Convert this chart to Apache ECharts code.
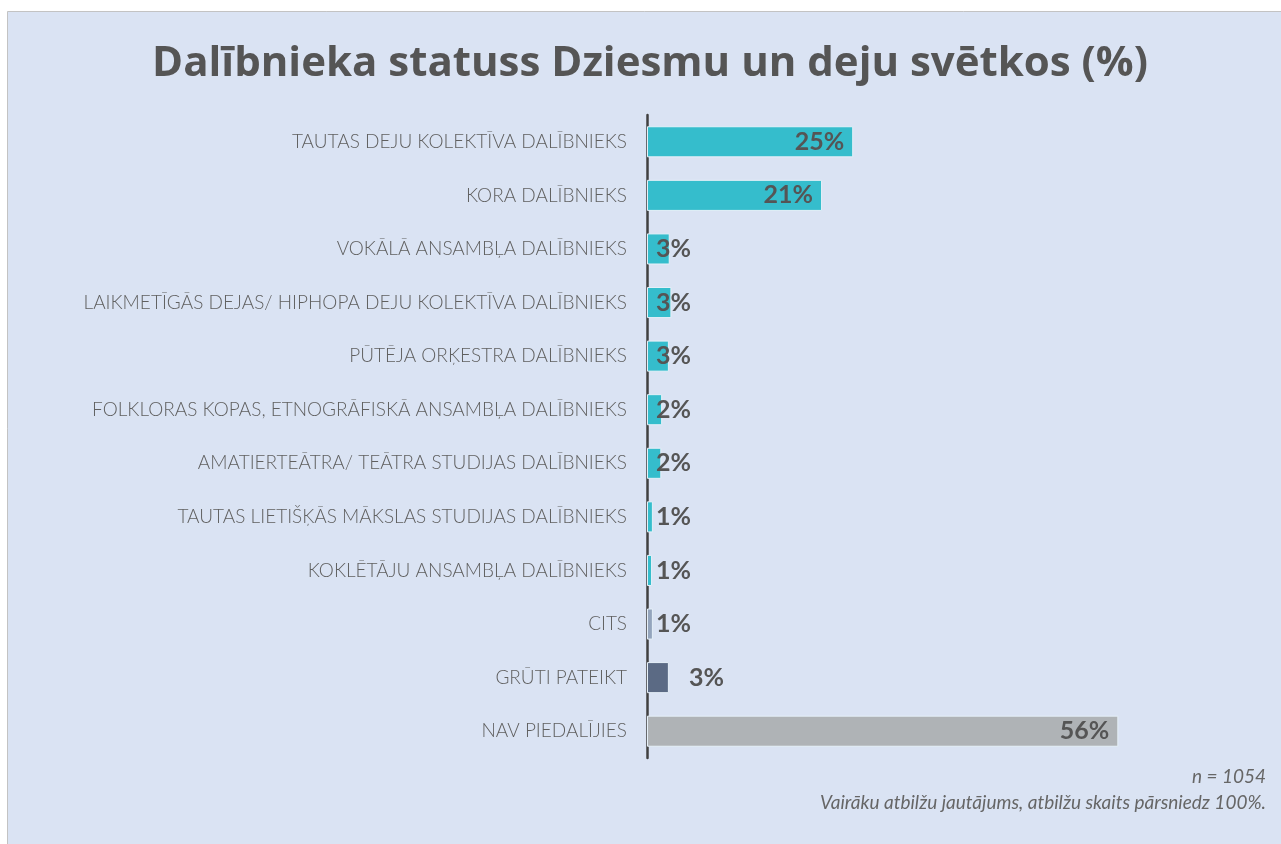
<!DOCTYPE html>
<html>
<head>
<meta charset="utf-8">
<title>Dalībnieka statuss</title>
<script src="https://cdn.jsdelivr.net/npm/echarts@6/dist/echarts.min.js"></script>
<style>
  html, body { margin: 0; padding: 0; background: #fff; }
  #chart { width: 1281px; height: 844px; }
</style>
</head>
<body>
<div id="chart"></div>
<script>
// categories, top to bottom
var categories = [
  'TAUTAS DEJU KOLEKTĪVA DALĪBNIEKS',
  'KORA DALĪBNIEKS',
  'VOKĀLĀ ANSAMBĻA DALĪBNIEKS',
  'LAIKMETĪGĀS DEJAS/ HIPHOPA DEJU KOLEKTĪVA DALĪBNIEKS',
  'PŪTĒJA ORĶESTRA DALĪBNIEKS',
  'FOLKLORAS KOPAS, ETNOGRĀFISKĀ ANSAMBĻA DALĪBNIEKS',
  'AMATIERTEĀTRA/ TEĀTRA STUDIJAS DALĪBNIEKS',
  'TAUTAS LIETIŠĶĀS MĀKSLAS STUDIJAS DALĪBNIEKS',
  'KOKLĒTĀJU ANSAMBĻA DALĪBNIEKS',
  'CITS',
  'GRŪTI PATEIKT',
  'NAV PIEDALĪJIES'
]
var values = [24.5, 20.8, 2.7, 2.9, 2.6, 1.8, 1.7, 0.7, 0.6, 0.7, 2.6, 56]
var labels = ['25%', '21%', '3%', '3%', '3%', '2%', '2%', '1%', '1%', '1%', '3%', '56%']

var titleText = 'Dalībnieka statuss Dziesmu un deju svētkos (%)'
var noteText = ['n = 1054', 'Vairāku atbilžu jautājums, atbilžu skaits pārsniedz 100%.']

var colorFor = function (name) {
  if (name === 'CITS') return '#93a4bc'
  if (name === 'GRŪTI PATEIKT') return '#5b6a84'
  if (name === 'NAV PIEDALĪJIES') return '#afb3b6'
  return '#35bdcc'
}

var labelFor = function (name, v) {
  if (name === 'GRŪTI PATEIKT') return { position: 'right', distance: 20 }
  if (v > 10) return { position: 'insideRight', distance: 9 }
  return { position: 'insideLeft', distance: 9 }
}

// reverse so first category sits at the top
var cats = categories.slice().reverse()
var seriesData = categories.map(function (name, i) {
  return {
    value: values[i],
    name: labels[i],
    itemStyle: { color: colorFor(name) },
    label: labelFor(name, values[i])
  }
}).reverse()

var chart = echarts.init(document.getElementById('chart'))
var noteStyle = {
  fontFamily: 'Lato',
  fontStyle: 'italic',
  fontSize: 19,
  fill: '#666666',
  textAlign: 'right',
  textVerticalAlign: 'middle'
}
var option = {
  backgroundColor: '#ffffff',
  animation: false,
  graphic: [{
    type: 'rect',
    z: -10,
    shape: { x: 7.5, y: 11.5, width: 1290, height: 850 },
    style: { fill: '#dae3f3', stroke: '#c3c3c3', lineWidth: 1 }
  }, {
    type: 'text',
    x: 650,
    y: 64,
    style: {
      text: titleText,
      fontFamily: 'Open Sans',
      fontWeight: 'bold',
      fontSize: 42,
      fill: '#555555',
      textAlign: 'center',
      textVerticalAlign: 'middle'
    }
  }, {
    type: 'text',
    x: 1266,
    y: 777,
    style: Object.assign({ text: noteText[0] }, noteStyle)
  }, {
    type: 'text',
    x: 1266,
    y: 803,
    style: Object.assign({ text: noteText[1] }, noteStyle)
  }],
  grid: {
    left: 647,
    top: 115,
    width: 505,
    height: 643,
    containLabel: false
  },
  xAxis: {
    type: 'value',
    min: 0,
    max: 60,
    show: false
  },
  yAxis: {
    type: 'category',
    data: cats,
    axisLine: { show: true, lineStyle: { color: '#404040', width: 2.5 } },
    axisTick: { show: false },
    axisLabel: {
      margin: 20,
      fontFamily: 'Lato',
      fontWeight: 300,
      fontSize: 19,
      color: '#606060'
    }
  },
  series: [{
    type: 'bar',
    data: seriesData,
    barCategoryGap: '42%',
    itemStyle: { borderColor: '#e6f0f8', borderWidth: 1 },
    label: {
      show: true,
      formatter: function (p) { return p.name },
      fontFamily: 'Lato',
      fontWeight: 'bold',
      fontSize: 25,
      color: '#555555'
    }
  }]
}
chart.setOption(option)
</script>
</body>
</html>
